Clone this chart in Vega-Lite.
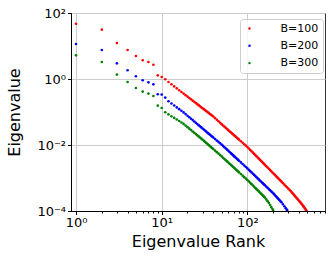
{
"$schema":"https://vega.github.io/schema/vega-lite/v6.json",
"width":254,"height":198,
"autosize":{"type":"none"},
"padding":{"left":71,"top":13,"right":7,"bottom":49},
"background":"white",
"config":{"font":"DejaVu Sans","view":{"stroke":"#333333","strokeWidth":1},
"axis":{"domainColor":"#000000","domainWidth":1,"tickColor":"#000000","tickWidth":1,"labelColor":"#000000","titleColor":"#000000","gridColor":"#cccccc","gridWidth":1,"labelFont":"DejaVu Sans","titleFont":"DejaVu Sans","titleFontWeight":"normal","labelFontSize":13,"titleFontSize":16}},
"datasets":{
"b100":[{"rank":1,"value":47.4},{"rank":2,"value":31.2},{"rank":3,"value":12.3},{"rank":4,"value":7.57},{"rank":5,"value":4.98},{"rank":6,"value":3.69},{"rank":7,"value":3.27},{"rank":8,"value":2.71},{"rank":9,"value":1.29},{"rank":10,"value":1.15},{"rank":11,"value":0.98},{"rank":12,"value":0.81},{"rank":13,"value":0.692},{"rank":14,"value":0.597},{"rank":15,"value":0.52},{"rank":16,"value":0.457},{"rank":17,"value":0.405},{"rank":18,"value":0.361},{"rank":19,"value":0.324},{"rank":20,"value":0.293},{"rank":21,"value":0.265},{"rank":22,"value":0.242},{"rank":23,"value":0.221},{"rank":24,"value":0.203},{"rank":25,"value":0.187},{"rank":26,"value":0.173},{"rank":27,"value":0.161},{"rank":28,"value":0.149},{"rank":29,"value":0.139},{"rank":30,"value":0.13},{"rank":31,"value":0.122},{"rank":32,"value":0.114},{"rank":33,"value":0.1075},{"rank":34,"value":0.101},{"rank":35,"value":0.0955},{"rank":36,"value":0.0903},{"rank":37,"value":0.0855},{"rank":38,"value":0.0811},{"rank":39,"value":0.077},{"rank":40,"value":0.0732},{"rank":42,"value":0.0651},{"rank":44,"value":0.0582},{"rank":46,"value":0.0523},{"rank":48,"value":0.0472},{"rank":50,"value":0.0428},{"rank":52,"value":0.0391},{"rank":54,"value":0.0359},{"rank":56,"value":0.033},{"rank":58,"value":0.0304},{"rank":60,"value":0.0281},{"rank":62,"value":0.0261},{"rank":64,"value":0.0243},{"rank":66,"value":0.0226},{"rank":68,"value":0.0211},{"rank":70,"value":0.0197},{"rank":72,"value":0.0185},{"rank":74,"value":0.0174},{"rank":76,"value":0.0163},{"rank":78,"value":0.0154},{"rank":80,"value":0.0145},{"rank":84,"value":0.013},{"rank":88,"value":0.0117},{"rank":92,"value":0.0105},{"rank":96,"value":0.00955},{"rank":100,"value":0.00869},{"rank":104,"value":0.00784},{"rank":108,"value":0.00709},{"rank":112,"value":0.00644},{"rank":116,"value":0.00587},{"rank":120,"value":0.00537},{"rank":124,"value":0.00493},{"rank":128,"value":0.00453},{"rank":132,"value":0.00418},{"rank":136,"value":0.00386},{"rank":140,"value":0.00358},{"rank":144,"value":0.00332},{"rank":148,"value":0.00309},{"rank":152,"value":0.00288},{"rank":156,"value":0.00269},{"rank":160,"value":0.00251},{"rank":166,"value":0.00228},{"rank":172,"value":0.00208},{"rank":178,"value":0.0019},{"rank":184,"value":0.00174},{"rank":190,"value":0.0016},{"rank":196,"value":0.00147},{"rank":202,"value":0.00136},{"rank":208,"value":0.00126},{"rank":214,"value":0.00117},{"rank":220,"value":0.00108},{"rank":226,"value":0.00101},{"rank":232,"value":0.000942},{"rank":238,"value":0.000881},{"rank":244,"value":0.000825},{"rank":250,"value":0.000774},{"rank":260,"value":0.000698},{"rank":270,"value":0.000631},{"rank":280,"value":0.000574},{"rank":290,"value":0.000523},{"rank":300,"value":0.000478},{"rank":310,"value":0.000438},{"rank":320,"value":0.000401},{"rank":330,"value":0.000366},{"rank":340,"value":0.000335},{"rank":350,"value":0.000307},{"rank":360,"value":0.000282},{"rank":370,"value":0.00026},{"rank":380,"value":0.00024},{"rank":390,"value":0.000222},{"rank":400,"value":0.000205},{"rank":410,"value":0.00019},{"rank":420,"value":0.000176},{"rank":430,"value":0.000163},{"rank":440,"value":0.000151},{"rank":450,"value":0.00014},{"rank":460,"value":0.000129},{"rank":470,"value":0.000119},{"rank":480,"value":0.00011},{"rank":490,"value":0.000101}],
"b200":[{"rank":1,"value":11.5},{"rank":2,"value":7.57},{"rank":3,"value":2.99},{"rank":4,"value":1.84},{"rank":5,"value":1.21},{"rank":6,"value":0.914},{"rank":7,"value":0.794},{"rank":8,"value":0.69},{"rank":9,"value":0.344},{"rank":10,"value":0.337},{"rank":11,"value":0.273},{"rank":12,"value":0.211},{"rank":13,"value":0.181},{"rank":14,"value":0.157},{"rank":15,"value":0.138},{"rank":16,"value":0.122},{"rank":17,"value":0.109},{"rank":18,"value":0.0974},{"rank":19,"value":0.0864},{"rank":20,"value":0.0772},{"rank":21,"value":0.0694},{"rank":22,"value":0.0626},{"rank":23,"value":0.0568},{"rank":24,"value":0.0517},{"rank":25,"value":0.0473},{"rank":26,"value":0.0434},{"rank":27,"value":0.0399},{"rank":28,"value":0.0368},{"rank":29,"value":0.0341},{"rank":30,"value":0.0317},{"rank":31,"value":0.0294},{"rank":32,"value":0.0275},{"rank":33,"value":0.0257},{"rank":34,"value":0.024},{"rank":35,"value":0.0225},{"rank":36,"value":0.0212},{"rank":37,"value":0.02},{"rank":38,"value":0.0188},{"rank":39,"value":0.0178},{"rank":40,"value":0.0168},{"rank":42,"value":0.0151},{"rank":44,"value":0.0136},{"rank":46,"value":0.0124},{"rank":48,"value":0.0113},{"rank":50,"value":0.0103},{"rank":52,"value":0.00937},{"rank":54,"value":0.00856},{"rank":56,"value":0.00784},{"rank":58,"value":0.00721},{"rank":60,"value":0.00664},{"rank":62,"value":0.00614},{"rank":64,"value":0.00569},{"rank":66,"value":0.00529},{"rank":68,"value":0.00492},{"rank":70,"value":0.00459},{"rank":72,"value":0.00429},{"rank":74,"value":0.00402},{"rank":76,"value":0.00377},{"rank":78,"value":0.00354},{"rank":80,"value":0.00333},{"rank":84,"value":0.00296},{"rank":88,"value":0.00265},{"rank":92,"value":0.00238},{"rank":96,"value":0.00215},{"rank":100,"value":0.00195},{"rank":104,"value":0.00177},{"rank":108,"value":0.00161},{"rank":112,"value":0.00147},{"rank":116,"value":0.00135},{"rank":120,"value":0.00124},{"rank":124,"value":0.00114},{"rank":128,"value":0.00105},{"rank":132,"value":0.000974},{"rank":136,"value":0.000904},{"rank":140,"value":0.000841},{"rank":144,"value":0.000784},{"rank":148,"value":0.000732},{"rank":152,"value":0.000685},{"rank":156,"value":0.000642},{"rank":160,"value":0.000602},{"rank":166,"value":0.000549},{"rank":172,"value":0.000503},{"rank":178,"value":0.000461},{"rank":184,"value":0.000425},{"rank":190,"value":0.000392},{"rank":196,"value":0.000363},{"rank":202,"value":0.000336},{"rank":208,"value":0.000309},{"rank":214,"value":0.000285},{"rank":220,"value":0.000264},{"rank":226,"value":0.000245},{"rank":232,"value":0.000227},{"rank":238,"value":0.000212},{"rank":244,"value":0.000197},{"rank":250,"value":0.000184},{"rank":260,"value":0.00016},{"rank":270,"value":0.000139},{"rank":280,"value":0.000122},{"rank":288,"value":0.00011},{"rank":292,"value":0.000104}],
"b300":[{"rank":1,"value":5.22},{"rank":2,"value":3.27},{"rank":3,"value":1.36},{"rank":4,"value":0.811},{"rank":5,"value":0.533},{"rank":6,"value":0.415},{"rank":7,"value":0.361},{"rank":8,"value":0.305},{"rank":9,"value":0.156},{"rank":10,"value":0.132},{"rank":11,"value":0.098},{"rank":12,"value":0.085},{"rank":13,"value":0.0746},{"rank":14,"value":0.0661},{"rank":15,"value":0.0591},{"rank":16,"value":0.0532},{"rank":17,"value":0.0482},{"rank":18,"value":0.0435},{"rank":19,"value":0.0387},{"rank":20,"value":0.0347},{"rank":21,"value":0.0312},{"rank":22,"value":0.0283},{"rank":23,"value":0.0257},{"rank":24,"value":0.0234},{"rank":25,"value":0.0215},{"rank":26,"value":0.0197},{"rank":27,"value":0.0182},{"rank":28,"value":0.0168},{"rank":29,"value":0.0156},{"rank":30,"value":0.0144},{"rank":31,"value":0.0134},{"rank":32,"value":0.0125},{"rank":33,"value":0.0116},{"rank":34,"value":0.0109},{"rank":35,"value":0.0102},{"rank":36,"value":0.00955},{"rank":37,"value":0.00897},{"rank":38,"value":0.00845},{"rank":39,"value":0.00797},{"rank":40,"value":0.00752},{"rank":42,"value":0.00674},{"rank":44,"value":0.00606},{"rank":46,"value":0.00548},{"rank":48,"value":0.00498},{"rank":50,"value":0.00452},{"rank":52,"value":0.00412},{"rank":54,"value":0.00376},{"rank":56,"value":0.00345},{"rank":58,"value":0.00318},{"rank":60,"value":0.00293},{"rank":62,"value":0.00271},{"rank":64,"value":0.00251},{"rank":66,"value":0.00234},{"rank":68,"value":0.00218},{"rank":70,"value":0.00203},{"rank":72,"value":0.0019},{"rank":74,"value":0.00178},{"rank":76,"value":0.00167},{"rank":78,"value":0.00157},{"rank":80,"value":0.00148},{"rank":84,"value":0.00132},{"rank":88,"value":0.00118},{"rank":92,"value":0.00106},{"rank":96,"value":0.00096},{"rank":100,"value":0.000871},{"rank":104,"value":0.000787},{"rank":108,"value":0.000713},{"rank":112,"value":0.000649},{"rank":116,"value":0.000592},{"rank":120,"value":0.000542},{"rank":124,"value":0.000498},{"rank":128,"value":0.000458},{"rank":132,"value":0.000423},{"rank":136,"value":0.000392},{"rank":140,"value":0.000363},{"rank":144,"value":0.000337},{"rank":148,"value":0.000314},{"rank":152,"value":0.000293},{"rank":156,"value":0.000274},{"rank":160,"value":0.000255},{"rank":166,"value":0.000225},{"rank":172,"value":0.000199},{"rank":178,"value":0.000177},{"rank":184,"value":0.000152},{"rank":190,"value":0.000131},{"rank":196,"value":0.000114},{"rank":200,"value":0.000104}]
},
"encoding":{
"x":{"field":"rank","type":"quantitative","scale":{"type":"log","domain":[0.874,805],"nice":false},
"axis":{"values":[1,2,3,4,5,6,7,8,9,10,20,30,40,50,60,70,80,90,100,200,300,400,500,600,700,800],
"labelExpr":"datum.value===1?'10⁰':datum.value===10?'10¹':datum.value===100?'10²':''",
"tickSize":{"condition":{"test":"datum.value===1||datum.value===10||datum.value===100","value":3.5},"value":2},
"grid":true,"gridOpacity":{"condition":{"test":"datum.value===1||datum.value===10||datum.value===100","value":1},"value":0},
"labelOverlap":false,"labelFlush":false,"labelPadding":2,"title":"Eigenvalue Rank","titlePadding":4}},
"y":{"field":"value","type":"quantitative","scale":{"type":"log","domain":[0.0001,100],"nice":false},
"axis":{"values":[0.0001,0.01,1,100],
"labelExpr":"datum.value>50?'10²':datum.value>0.5?'10⁰':datum.value>0.005?'10⁻²':'10⁻⁴'",
"tickSize":3.5,"grid":true,"labelOverlap":false,"labelFlush":false,"labelPadding":2,"title":"Eigenvalue","titlePadding":14}}
},
"layer":[
{"data":{"name":"b100"},"mark":{"type":"point","shape":"circle","filled":true,"size":7,"opacity":1,"clip":true},
"encoding":{"color":{"datum":"B=100","type":"nominal","scale":{"domain":["B=100","B=200","B=300"],"range":["#ff0000","#0000ff","#008000"]},
"legend":{"orient":"none","legendX":169,"legendY":6,"title":null,"fillColor":"rgba(255,255,255,0.8)","strokeColor":"#cccccc","cornerRadius":3,"padding":4,"labelFontSize":11,"labelFont":"DejaVu Sans","labelColor":"#000000","symbolType":"circle","symbolSize":6,"labelOffset":25.5,"rowPadding":5.3}}}},
{"data":{"name":"b200"},"mark":{"type":"point","shape":"circle","filled":true,"size":7,"opacity":1,"clip":true},
"encoding":{"color":{"datum":"B=200","type":"nominal"}}},
{"data":{"name":"b300"},"mark":{"type":"point","shape":"circle","filled":true,"size":7,"opacity":1,"clip":true},
"encoding":{"color":{"datum":"B=300","type":"nominal"}}}
]
}
